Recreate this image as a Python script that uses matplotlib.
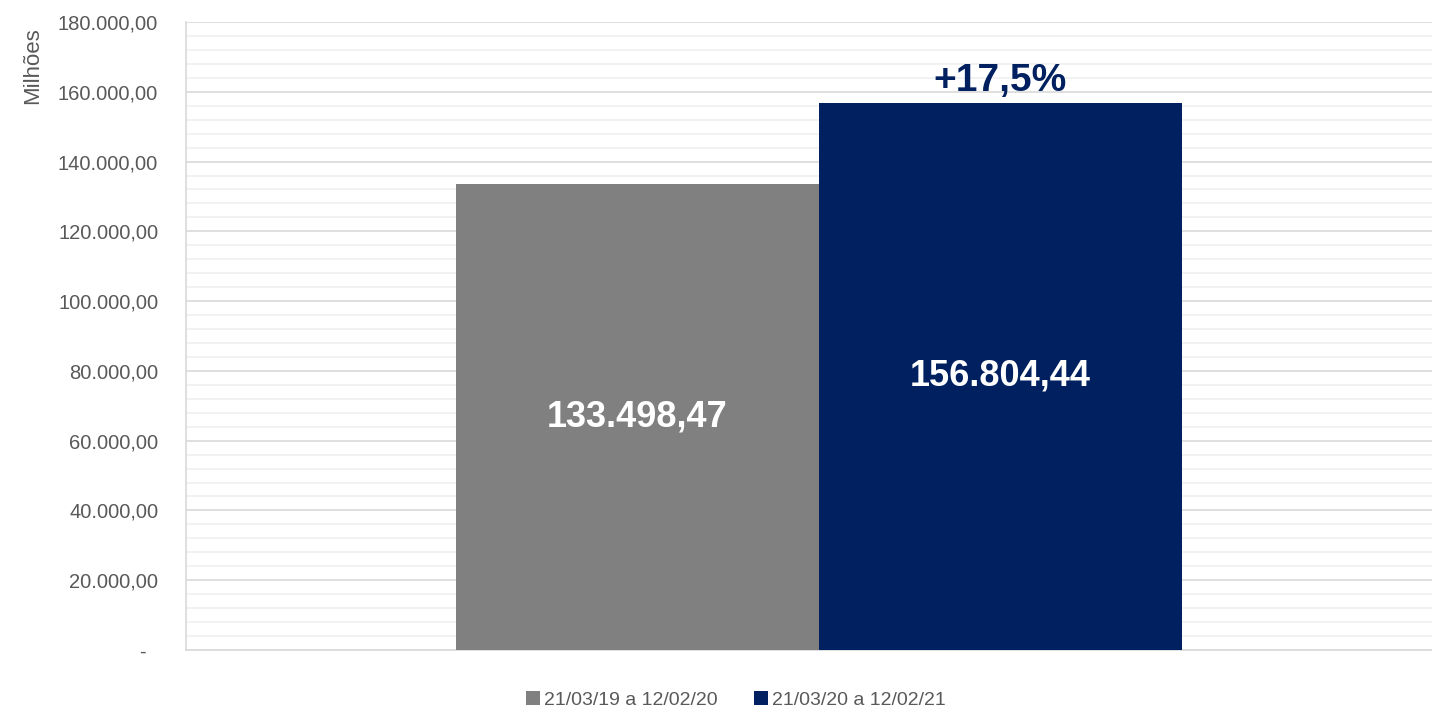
import matplotlib
matplotlib.use("Agg")
import matplotlib.pyplot as plt
from matplotlib.ticker import MultipleLocator, FuncFormatter
from matplotlib.patches import Patch

categories = ["21/03/19 a 12/02/20", "21/03/20 a 12/02/21"]
values = [133498.47, 156804.44]
colors = ["#808080", "#002060"]
change_label = "+17,5%"

def br(v, dec=2):
    s = f"{v:,.{dec}f}"
    return s.replace(",", "X").replace(".", ",").replace("X", ".")

plt.rcParams['font.family'] = ['Liberation Sans Narrow', 'Liberation Sans', 'DejaVu Sans']

fig = plt.figure(figsize=(14.32, 7.13), dpi=100)
ax = fig.add_axes([186/1432, 63/713, 1 - 186/1432, (650-22)/713])

x = list(range(len(values)))
bars = ax.bar(x, values, width=1.0, color=colors, zorder=3)

ax.set_xlim(-1.243, 2.19)
ax.set_ylim(0, 180000)
ax.yaxis.set_major_locator(MultipleLocator(20000))
ax.yaxis.set_minor_locator(MultipleLocator(4000))
ax.yaxis.set_major_formatter(FuncFormatter(lambda v, p: "-  " if v == 0 else br(v)))
ax.grid(axis='y', which='major', color='#d9d9d9', linewidth=1.2, zorder=0)
ax.grid(axis='y', which='minor', color='#f0f0f0', linewidth=1.2, zorder=0)
ax.tick_params(axis='y', which='both', length=0, pad=20, labelsize=14.5, labelcolor='#595959')
ax.tick_params(axis='x', which='both', length=0, labelbottom=False)
for s in ['top', 'right']:
    ax.spines[s].set_visible(False)
for s in ['left', 'bottom']:
    ax.spines[s].set_color('#d9d9d9')
    ax.spines[s].set_linewidth(1.2)

ax.set_ylabel("Milhões", fontsize=16, color='#595959')
ax.yaxis.set_label_coords(-0.115, 0.93)

for xi, v in zip(x, values):
    ax.text(xi, v / 2, br(v), ha='center', va='center', color='white',
            fontsize=26, fontweight='bold')

ax.text(x[1], values[1] + 1200, change_label, ha='center', va='bottom', color='#002060',
        fontsize=28, fontweight='bold')

handles = [Patch(facecolor=c, edgecolor='none') for c in colors]
fig.legend(handles, categories, loc='center', bbox_to_anchor=(0.514, 0.018),
           ncol=2, frameon=False, fontsize=14, labelcolor='#595959',
           handlelength=0.7, handleheight=0.7, handletextpad=0.2, columnspacing=1.9)

fig.savefig("out.png", dpi=100)
